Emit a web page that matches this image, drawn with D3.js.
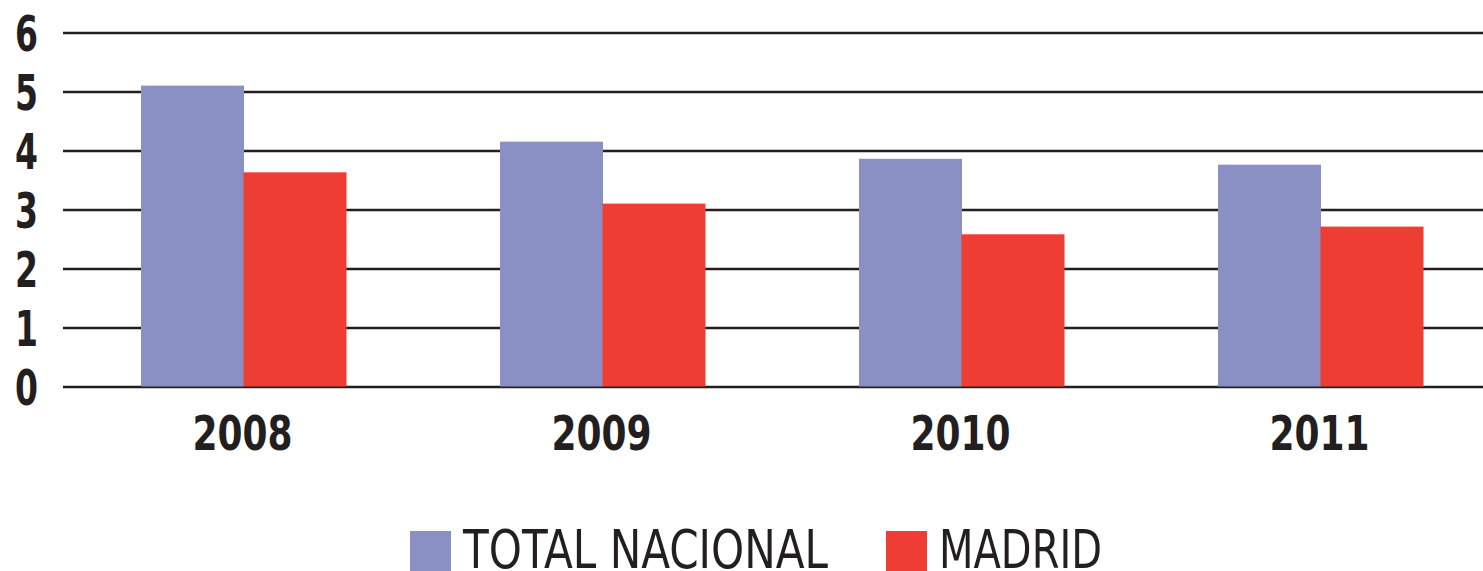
<!DOCTYPE html>
<html>
<head>
<meta charset="utf-8">
<script src="https://cdn.jsdelivr.net/npm/d3@7"></script>
<style>
  body { margin: 0; background: #fff; }
  svg { display: block; }
  text { fill: #231f20; }
</style>
</head>
<body>
<div id="chart"></div>
<script>
// data
const years = ['2008', '2009', '2010', '2011'];
const seriesNames = ['TOTAL NACIONAL', 'MADRID'];
const totalNacional = [5.1, 4.15, 3.86, 3.76];
const madrid = [3.63, 3.1, 2.58, 2.71];
const yTicks = [0, 1, 2, 3, 4, 5, 6];
const colors = ['#8a8fc4', '#ee3d33'];

const width = 1483, height = 571;
const narrow = '"Liberation Sans Narrow", "DejaVu Sans Condensed", "Arial Narrow", sans-serif';

const svg = d3.select('#chart').append('svg')
    .attr('width', width)
    .attr('height', height);

const y = d3.scaleLinear().domain([0, 6]).range([386.5, 32.5]);

const x0 = d3.scaleBand()
    .domain(years)
    .range([64, 1500])
    .paddingInner(0.429)
    .paddingOuter(0.2145);

const x1 = d3.scaleBand()
    .domain(seriesNames)
    .range([0, x0.bandwidth()]);

// gridlines + y labels
const yAxis = svg.append('g')
    .attr('transform', 'translate(63,0)')
    .call(d3.axisLeft(y)
        .tickValues(yTicks)
        .tickFormat(d3.format('d'))
        .tickSize(-(width - 63))
        .tickPadding(25));

yAxis.select('.domain').remove();
yAxis.selectAll('.tick line')
    .attr('stroke', '#231f20')
    .attr('stroke-width', 2.5);
yAxis.selectAll('.tick text')
    .attr('font-family', narrow)
    .attr('font-weight', 'bold')
    .attr('font-size', 50)
    .attr('fill', '#231f20')
    .attr('textLength', 23)
    .attr('lengthAdjust', 'spacingAndGlyphs')
    .attr('dy', '0.36em');

// bars
const rows = years.map((yr, i) => ({ year: yr, values: [totalNacional[i], madrid[i]] }));

const groups = svg.append('g')
    .selectAll('g')
    .data(rows)
    .enter().append('g')
    .attr('transform', d => `translate(${x0(d.year)},0)`);

groups.selectAll('rect')
    .data(d => d.values.map((v, j) => ({ key: seriesNames[j], value: v, j })))
    .enter().append('rect')
    .attr('x', d => x1(d.key))
    .attr('width', x1.bandwidth() + 0.5)
    .attr('y', d => y(d.value))
    .attr('height', d => y(0) - y(d.value))
    .attr('fill', d => colors[d.j]);

// x labels
svg.append('g')
    .selectAll('text')
    .data(years)
    .enter().append('text')
    .attr('x', d => x0(d) + x0.bandwidth() / 2 - 1)
    .attr('y', 450)
    .attr('text-anchor', 'middle')
    .attr('font-family', narrow)
    .attr('font-weight', 'bold')
    .attr('font-size', 48)
    .attr('textLength', 100)
    .attr('lengthAdjust', 'spacingAndGlyphs')
    .text(d => d);

// legend
const legendX = [410, 886];
const legendTextW = [365, 163];
const legend = svg.append('g')
    .selectAll('g')
    .data(seriesNames)
    .enter().append('g')
    .attr('transform', (d, i) => `translate(${legendX[i]},531)`);

legend.append('rect')
    .attr('width', 41)
    .attr('height', 41)
    .attr('fill', (d, i) => colors[i]);

legend.append('text')
    .attr('x', 53)
    .attr('y', 37)
    .attr('font-family', narrow)
    .attr('font-size', 54)
    .attr('textLength', (d, i) => legendTextW[i])
    .attr('lengthAdjust', 'spacingAndGlyphs')
    .text(d => d);
</script>
</body>
</html>
